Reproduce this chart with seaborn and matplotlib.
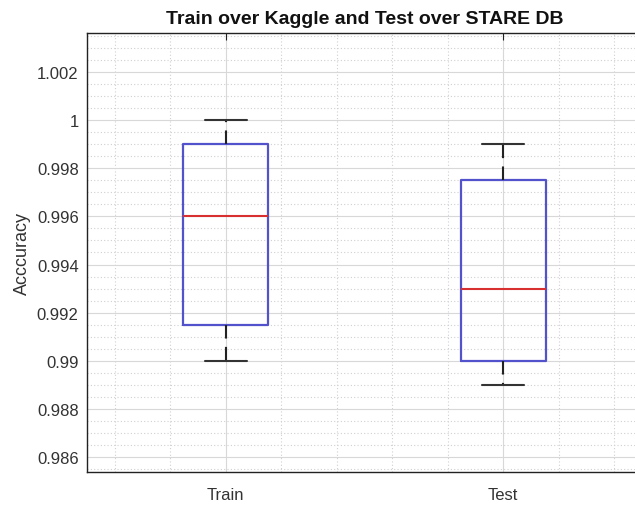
import numpy as np
import pandas as pd
import matplotlib
matplotlib.use("Agg")
import matplotlib.pyplot as plt
import seaborn as sns
from matplotlib.ticker import MultipleLocator

# Data: five-number summaries (min, q1, median, q3, max)
categories = ["Train", "Test"]
train_values = [0.990, 0.9915, 0.996, 0.999, 1.000]
test_values = [0.989, 0.990, 0.993, 0.9975, 0.999]
ytick_values = [0.986, 0.988, 0.990, 0.992, 0.994, 0.996, 0.998, 1.000, 1.002]
ytick_labels = ["0.986", "0.988", "0.99", "0.992", "0.994", "0.996", "0.998", "1", "1.002"]
title = "Train over Kaggle and Test over STARE DB"
ylabel = "Acccuracy"

df = pd.DataFrame({
    "set": [categories[0]] * len(train_values) + [categories[1]] * len(test_values),
    "acc": train_values + test_values,
})

sns.set_style("white")
plt.rcParams["font.family"] = ["Liberation Sans", "DejaVu Sans"]

fig = plt.figure(figsize=(6.35, 5.06), dpi=100)
ax = fig.add_axes([87 / 635, 1 - 473 / 506, (642 - 87) / 635, (473 - 34) / 506])

blue = "#5252cc"
sns.boxplot(
    data=df, x="set", y="acc", order=categories, ax=ax,
    fill=False, width=0.306, whis=10, linewidth=1.5,
    boxprops=dict(color=blue, linewidth=1.6),
    whiskerprops=dict(color="#222222", linestyle=(0, (6.5, 4)), linewidth=1.5),
    capprops=dict(color="#333333", linewidth=1.5),
    medianprops=dict(color="#d83030", linewidth=1.5),
    showfliers=False,
)

ax.set_xlim(-0.5, 1.5)
ax.set_ylim(0.98538, 1.00362)
ax.set_yticks(ytick_values)
ax.set_yticklabels(ytick_labels)
ax.yaxis.set_minor_locator(MultipleLocator(0.0005))
ax.xaxis.set_minor_locator(MultipleLocator(0.2))

ax.grid(True, which="major", color="#d8d8d8", linewidth=0.8, linestyle="-")
ax.grid(True, which="minor", color="#d0d0d0", linewidth=0.8, linestyle=(0, (1, 2)))
ax.set_axisbelow(True)

for s in ax.spines.values():
    s.set_color("#222222")
    s.set_linewidth(1.0)

ax.tick_params(axis="both", which="major", direction="in", length=5, width=0.8,
               colors="#222222", labelcolor="#333333", labelsize=12,
               top=True, right=True, pad=6)
ax.tick_params(axis="x", which="major", pad=11)
ax.tick_params(axis="both", which="minor", length=0, top=False, right=False)

ax.set_xlabel("")
ax.set_ylabel(ylabel, fontsize=13, color="#333333", labelpad=4)
ax.set_title(title, fontsize=14, fontweight="bold", color="#111111", pad=7)

fig.savefig("out.png", dpi=100)
